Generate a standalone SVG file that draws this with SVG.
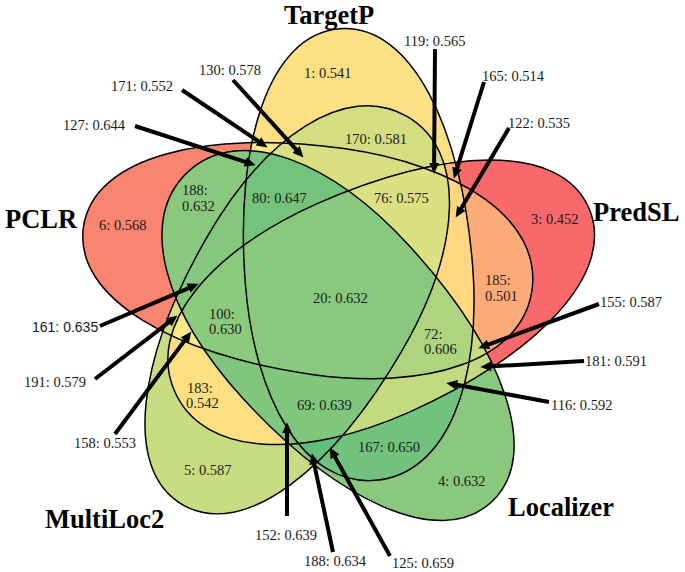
<svg xmlns="http://www.w3.org/2000/svg" xmlns:xlink="http://www.w3.org/1999/xlink" width="685" height="572" viewBox="0 0 685 572">
<style>
.lb{font-family:"Liberation Serif","Times New Roman",serif;font-size:14.5px;fill:#1a1a1a}
.ls{font-family:"Liberation Sans",Arial,sans-serif;font-size:14px;fill:#1a1a1a}
.tt{font-family:"Liberation Serif","Times New Roman",serif;font-size:26.5px;font-weight:bold;fill:#000}
.ar{stroke:#000;stroke-width:4;fill:none;marker-end:url(#ah)}
.ol{fill:none;stroke:#000;stroke-width:1.5}
</style>
<defs>
<path id="pT" d="M0,-247 C72,-247 114,-138 114,0 C114,115 72,206 0,206 C-72,206 -114,115 -114,0 C-114,-138 -72,-247 0,-247 Z" transform="translate(359,275) rotate(-4.5)"/>
<path id="pP" d="M0,-247 C72,-247 114,-138 114,0 C114,115 72,206 0,206 C-72,206 -114,115 -114,0 C-114,-138 -72,-247 0,-247 Z" transform="translate(363,308) rotate(66)"/>
<path id="pL" d="M0,-247 C72,-247 114,-138 114,0 C114,115 72,206 0,206 C-72,206 -114,115 -114,0 C-114,-138 -72,-247 0,-247 Z" transform="translate(326,322) rotate(137.5) scale(0.99)"/>
<path id="pM" d="M0,-247 C72,-247 114,-138 114,0 C114,115 72,206 0,206 C-72,206 -114,115 -114,0 C-114,-138 -72,-247 0,-247 Z" transform="translate(305,293) rotate(210) scale(0.99)"/>
<path id="pC" d="M0,-247 C72,-247 114,-138 114,0 C114,115 72,206 0,206 C-72,206 -114,115 -114,0 C-114,-138 -72,-247 0,-247 Z" transform="translate(328,261.5) rotate(-82)"/>
<clipPath id="cT"><use href="#pT"/></clipPath>
<clipPath id="cP"><use href="#pP"/></clipPath>
<clipPath id="cL"><use href="#pL"/></clipPath>
<clipPath id="cM"><use href="#pM"/></clipPath>
<clipPath id="cC"><use href="#pC"/></clipPath>
<marker id="ah" markerUnits="userSpaceOnUse" markerWidth="11" markerHeight="11" viewBox="0 0 10 10" refX="3" refY="5" orient="auto">
<path d="M0,0.5 L10,5 L0,9.5 Z" fill="#000"/>
</marker>
</defs>
<rect width="685" height="572" fill="#fff"/>
<g id="regions">
<use id="r-T" href="#pT" fill="#FEE084"/>
<use id="r-P" href="#pP" fill="#F8696B"/>
<use id="r-L" href="#pL" fill="#8AC97D"/>
<use id="r-M" href="#pM" fill="#CADC81"/>
<use id="r-C" href="#pC" fill="#F9846F"/>
<g id="r-TP" clip-path="url(#cT)"><use href="#pP" fill="#FCBB7B"/></g>
<g id="r-TL" clip-path="url(#cT)"><use href="#pL" fill="#70C27C"/></g>
<g id="r-TM" clip-path="url(#cT)"><use href="#pM" fill="#D3DE81"/></g>
<g id="r-TC" clip-path="url(#cT)"><use href="#pC" fill="#FCEA84"/></g>
<g id="r-PL" clip-path="url(#cP)"><use href="#pL" fill="#C4DA81"/></g>
<g id="r-PM" clip-path="url(#cP)"><use href="#pM" fill="#FEE082"/></g>
<g id="r-PC" clip-path="url(#cP)"><use href="#pC" fill="#FCAA78"/></g>
<g id="r-LM" clip-path="url(#cL)"><use href="#pM" fill="#87C87D"/></g>
<g id="r-LC" clip-path="url(#cL)"><use href="#pC" fill="#8AC97D"/></g>
<g id="r-MC" clip-path="url(#cM)"><use href="#pC" fill="#D6DF82"/></g>
<g id="r-TPL" clip-path="url(#cT)"><g clip-path="url(#cP)"><use href="#pL" fill="#C3DA80"/></g></g>
<g id="r-TPM" clip-path="url(#cT)"><g clip-path="url(#cP)"><use href="#pM" fill="#EAE583"/></g></g>
<g id="r-TPC" clip-path="url(#cT)"><g clip-path="url(#cP)"><use href="#pC" fill="#FED780"/></g></g>
<g id="r-TLM" clip-path="url(#cT)"><g clip-path="url(#cL)"><use href="#pM" fill="#63BE7B"/></g></g>
<g id="r-TLC" clip-path="url(#cT)"><g clip-path="url(#cL)"><use href="#pC" fill="#79C47C"/></g></g>
<g id="r-TMC" clip-path="url(#cT)"><g clip-path="url(#cM)"><use href="#pC" fill="#D7DF82"/></g></g>
<g id="r-PLM" clip-path="url(#cP)"><g clip-path="url(#cL)"><use href="#pM" fill="#80C67D"/></g></g>
<g id="r-PLC" clip-path="url(#cP)"><g clip-path="url(#cL)"><use href="#pC" fill="#CADC81"/></g></g>
<g id="r-PMC" clip-path="url(#cP)"><g clip-path="url(#cM)"><use href="#pC" fill="#FBEA84"/></g></g>
<g id="r-LMC" clip-path="url(#cL)"><g clip-path="url(#cM)"><use href="#pC" fill="#85C87D"/></g></g>
<g id="r-TPLM" clip-path="url(#cT)"><g clip-path="url(#cP)"><g clip-path="url(#cL)"><use href="#pM" fill="#80C67D"/></g></g></g>
<g id="r-TPLC" clip-path="url(#cT)"><g clip-path="url(#cP)"><g clip-path="url(#cL)"><use href="#pC" fill="#AFD47F"/></g></g></g>
<g id="r-TPMC" clip-path="url(#cT)"><g clip-path="url(#cP)"><g clip-path="url(#cM)"><use href="#pC" fill="#DBE182"/></g></g></g>
<g id="r-TLMC" clip-path="url(#cT)"><g clip-path="url(#cL)"><g clip-path="url(#cM)"><use href="#pC" fill="#74C37C"/></g></g></g>
<g id="r-PLMC" clip-path="url(#cP)"><g clip-path="url(#cL)"><g clip-path="url(#cM)"><use href="#pC" fill="#8CCA7D"/></g></g></g>
<g id="r-TPLMC" clip-path="url(#cT)"><g clip-path="url(#cP)"><g clip-path="url(#cL)"><g clip-path="url(#cM)"><use href="#pC" fill="#8AC97D"/></g></g></g></g>
</g>
<g id="set-TargetP"><use class="ol" href="#pT"/><text class="tt" x="284" y="24">TargetP</text></g>
<g id="set-PredSL"><use class="ol" href="#pP"/><text class="tt" x="593" y="221">PredSL</text></g>
<g id="set-Localizer"><use class="ol" href="#pL"/><text class="tt" x="508" y="516">Localizer</text></g>
<g id="set-MultiLoc2"><use class="ol" href="#pM"/><text class="tt" x="45" y="528">MultiLoc2</text></g>
<g id="set-PCLR"><use class="ol" href="#pC"/><text class="tt" x="5" y="228">PCLR</text></g>
<g id="connectors">
<line class="ar" x1="233" y1="80" x2="298.3" y2="151.8"/>
<line class="ar" x1="182" y1="90" x2="261.2" y2="143.1"/>
<line class="ar" x1="135" y1="126" x2="248.3" y2="162.8"/>
<line class="ar" x1="435" y1="49" x2="434.1" y2="166"/>
<line class="ar" x1="484" y1="82" x2="456.1" y2="171.3"/>
<line class="ar" x1="509" y1="128" x2="459.6" y2="211"/>
<line class="ar" x1="100" y1="326" x2="191.6" y2="286.8"/>
<line class="ar" x1="95" y1="379" x2="171.4" y2="320.3"/>
<line class="ar" x1="115" y1="434" x2="186.8" y2="337.6"/>
<line class="ar" x1="287" y1="516" x2="287" y2="430"/>
<line class="ar" x1="333" y1="552" x2="313.5" y2="460.8"/>
<line class="ar" x1="390" y1="556" x2="333.4" y2="454.1"/>
<line class="ar" x1="599" y1="304" x2="485.6" y2="345.6"/>
<line class="ar" x1="584" y1="361" x2="488" y2="366.6"/>
<line class="ar" x1="549" y1="402" x2="453.9" y2="384.3"/>
</g>
<g id="labels">
<text class="lb" x="199" y="75">130: 0.578</text>
<text class="lb" x="111" y="90.5">171: 0.552</text>
<text class="lb" x="63" y="130">127: 0.644</text>
<text class="lb" x="182" y="195">188:</text>
<text class="lb" x="182" y="211">0.632</text>
<text class="lb" x="252" y="203">80: 0.647</text>
<text class="lb" x="99" y="230">6: 0.568</text>
<text class="lb" x="304" y="78">1: 0.541</text>
<text class="lb" x="345" y="144">170: 0.581</text>
<text class="lb" x="404" y="46">119: 0.565</text>
<text class="lb" x="482" y="80.5">165: 0.514</text>
<text class="lb" x="508" y="128">122: 0.535</text>
<text class="lb" x="374" y="203">76: 0.575</text>
<text class="lb" x="531" y="224">3: 0.452</text>
<text class="lb" x="485" y="285">185:</text>
<text class="lb" x="485" y="301">0.501</text>
<text class="lb" x="313" y="302.5">20: 0.632</text>
<text class="lb" x="209" y="319">100:</text>
<text class="lb" x="209" y="334">0.630</text>
<text class="lb" x="187" y="393">183:</text>
<text class="lb" x="186" y="408">0.542</text>
<text class="lb" x="297" y="409.5">69: 0.639</text>
<text class="lb" x="184" y="475">5: 0.587</text>
<text class="ls" x="32" y="332">161: 0.635</text>
<text class="lb" x="24" y="387">191: 0.579</text>
<text class="lb" x="74" y="448">158: 0.553</text>
<text class="lb" x="255" y="540">152: 0.639</text>
<text class="lb" x="304" y="566">188: 0.634</text>
<text class="lb" x="392" y="568">125: 0.659</text>
<text class="lb" x="438" y="486">4: 0.632</text>
<text class="lb" x="358" y="451.5">167: 0.650</text>
<text class="lb" x="424" y="338.5">72:</text>
<text class="lb" x="424" y="353.5">0.606</text>
<text class="lb" x="600" y="306.5">155: 0.587</text>
<text class="lb" x="585" y="366">181: 0.591</text>
<text class="lb" x="551" y="410">116: 0.592</text>
</g>
</svg>
